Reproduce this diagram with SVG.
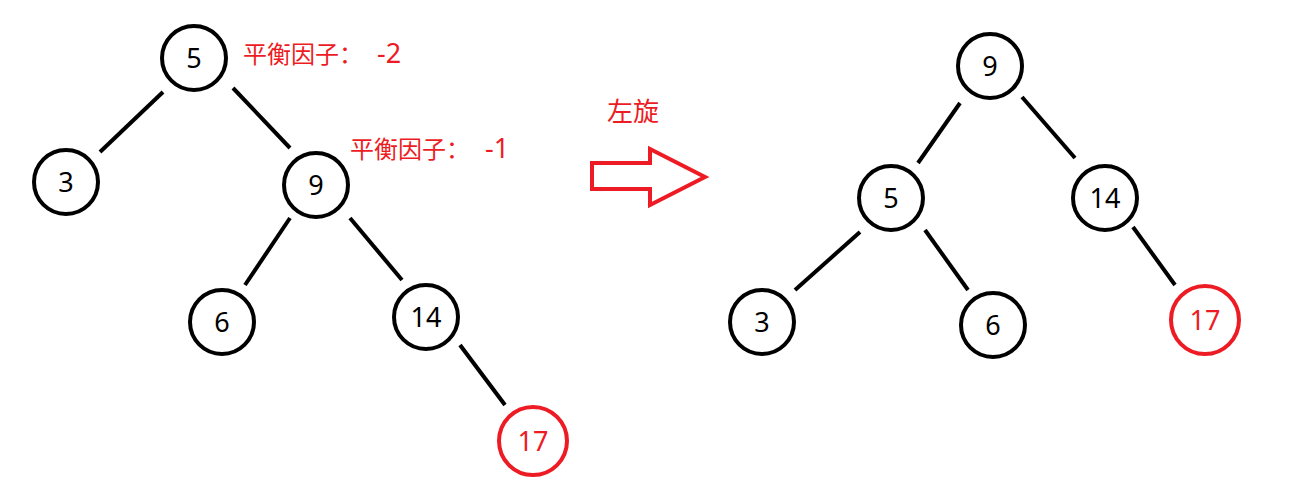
<svg xmlns="http://www.w3.org/2000/svg" width="1296" height="490" viewBox="0 0 1296 490">
<style>
.n{fill:#fff;stroke:#000;stroke-width:4}
.r{fill:#fff;stroke:#ed1c24;stroke-width:4}
.t{font-family:"Noto Sans","Noto Sans CJK SC",sans-serif;font-size:27px;text-anchor:middle;fill:#000}
.tr{fill:#ed1c24}
.lab{font-family:"Noto Sans CJK SC",sans-serif;font-size:24px;fill:#ed1c24}
.num{font-family:"Noto Sans",sans-serif;font-size:27px}
.e{stroke:#000;stroke-width:4;stroke-linecap:butt}
</style>
<rect width="1296" height="490" fill="#fff"/>
<g id="connectors">
<line class="e" x1="163" y1="92" x2="100" y2="152"/>
<line class="e" x1="233" y1="88" x2="290" y2="148"/>
<line class="e" x1="290" y1="218" x2="245" y2="285"/>
<line class="e" x1="350" y1="218" x2="402" y2="280"/>
<line class="e" x1="460" y1="345" x2="505" y2="405"/>
<line class="e" x1="960" y1="103" x2="918" y2="163"/>
<line class="e" x1="1022" y1="97" x2="1075" y2="158"/>
<line class="e" x1="860" y1="232" x2="795" y2="290"/>
<line class="e" x1="925" y1="230" x2="968" y2="290"/>
<line class="e" x1="1133" y1="227" x2="1175" y2="285"/>
</g>
<g id="L5"><circle class="n" cx="194" cy="58" r="32"/><text class="t" x="194" y="68">5</text></g>
<g id="L3"><circle class="n" cx="66" cy="182" r="32"/><text class="t" x="66" y="192">3</text></g>
<g id="L9"><circle class="n" cx="316" cy="185" r="32"/><text class="t" x="316" y="195">9</text></g>
<g id="L6"><circle class="n" cx="222" cy="322" r="32"/><text class="t" x="222" y="332">6</text></g>
<g id="L14"><circle class="n" cx="426" cy="317" r="32"/><text class="t" x="426" y="327">14</text></g>
<g id="L17"><circle class="r" cx="533" cy="441" r="34"/><text class="t tr" x="533" y="451">17</text></g>
<g id="R9"><circle class="n" cx="990" cy="66" r="32"/><text class="t" x="990" y="76">9</text></g>
<g id="R5"><circle class="n" cx="891" cy="198" r="32"/><text class="t" x="891" y="208">5</text></g>
<g id="R14"><circle class="n" cx="1105" cy="198" r="32"/><text class="t" x="1105" y="208">14</text></g>
<g id="R3"><circle class="n" cx="762" cy="322" r="32"/><text class="t" x="762" y="332">3</text></g>
<g id="R6"><circle class="n" cx="993" cy="325" r="32"/><text class="t" x="993" y="335">6</text></g>
<g id="R17"><circle class="r" cx="1205" cy="320" r="34"/><text class="t tr" x="1205" y="330">17</text></g>
<text class="lab" x="243" y="63">平衡因子：<tspan class="num" x="377">-2</tspan></text>
<text class="lab" x="350" y="158">平衡因子：<tspan class="num" x="485">-1</tspan></text>
<text class="lab" x="607" y="121" style="font-size:26px">左旋</text>
<polygon points="592,163 650,163 650,149 705,177 650,205 650,189 592,189" fill="none" stroke="#ed1c24" stroke-width="4"/>
</svg>
